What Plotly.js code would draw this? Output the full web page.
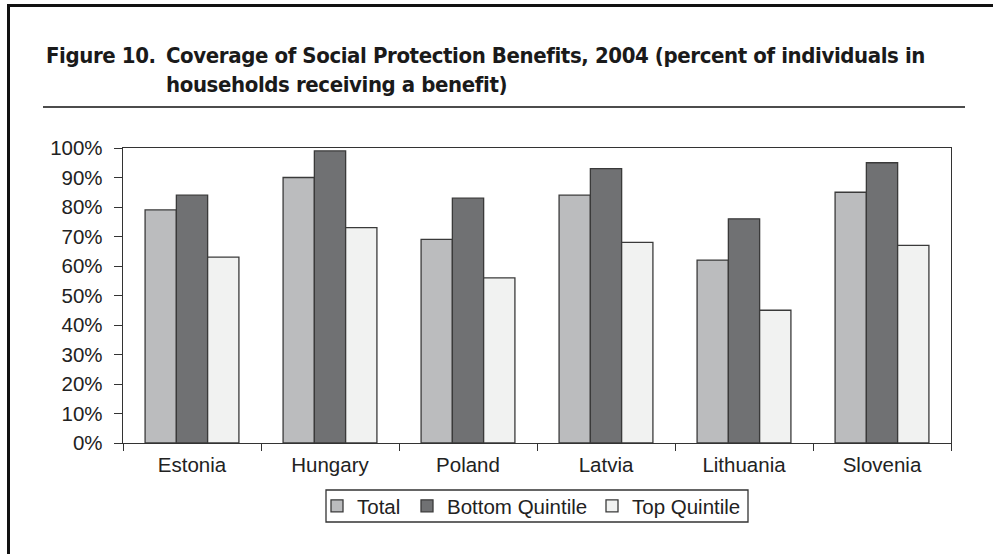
<!DOCTYPE html>
<html>
<head>
<meta charset="utf-8">
<script src="https://cdn.plot.ly/plotly-3.0.1.min.js"></script>
<style>
  html, body { margin: 0; padding: 0; background: #ffffff; }
  #chart { width: 993px; height: 554px; }
  #chart .annotation-text { letter-spacing: -0.4px; }
</style>
</head>
<body>
<div id="chart"></div>
<script>
// ---- Data ----
const countries = ["Estonia", "Hungary", "Poland", "Latvia", "Lithuania", "Slovenia"];
const seriesNames = ["Total", "Bottom Quintile", "Top Quintile"];
const totalValues = [79, 90, 69, 84, 62, 85];
const bottomQuintileValues = [84, 99, 83, 93, 76, 95];
const topQuintileValues = [63, 73, 56, 68, 45, 67];
const yTickValues = [0, 10, 20, 30, 40, 50, 60, 70, 80, 90, 100];
const yTickLabels = ["0%", "10%", "20%", "30%", "40%", "50%", "60%", "70%", "80%", "90%", "100%"];
const titleLead = "Figure 10.";
const titleBody = "Coverage of Social Protection Benefits, 2004 (percent of individuals in<br>households receiving a benefit)";

// ---- Layout geometry (pixels) ----
const W = 993, H = 554;
const M = { l: 123, r: 42, t: 148, b: 111 };
const pw = W - M.l - M.r, ph = H - M.t - M.b;
const px = x => (x - M.l) / pw;
const py = y => (H - M.b - y) / ph;

const lineCol = "#333333";
const textCol = "#222222";
const sansFont = "'Liberation Sans', Arial, Helvetica, sans-serif";
const titleFont = "'Liberation Sans Narrow', 'DejaVu Sans Condensed', 'Arial Narrow', sans-serif";
const fs = 20.5;

function barTrace(name, values, fill, legendId) {
  return {
    type: "bar",
    name: name,
    x: countries,
    y: values,
    legend: legendId,
    marker: { color: fill, line: { color: "#3a3a3a", width: 1.3 } },
    hoverinfo: "x+y+name"
  };
}

const data = [
  barTrace(seriesNames[0], totalValues, "#bbbcbe", "legend"),
  barTrace(seriesNames[1], bottomQuintileValues, "#707173", "legend2"),
  barTrace(seriesNames[2], topQuintileValues, "#f1f2f1", "legend3")
];

function legendAt(markerCenterPx) {
  return {
    orientation: "h",
    x: px(markerCenterPx - 20), xanchor: "left",
    y: py(506), yanchor: "middle",
    borderwidth: 0,
    bgcolor: "rgba(0,0,0,0)",
    font: { family: sansFont, size: fs, color: textCol }
  };
}

const layout = {
  width: W, height: H,
  margin: M,
  paper_bgcolor: "#ffffff",
  plot_bgcolor: "#ffffff",
  barmode: "group",
  bargap: 0.32,
  bargroupgap: 0,
  showlegend: true,
  font: { family: sansFont, size: fs, color: textCol },
  xaxis: {
    type: "category",
    tickson: "boundaries",
    ticks: "outside",
    ticklen: 7,
    tickcolor: lineCol,
    showline: true,
    linecolor: lineCol,
    linewidth: 1.3,
    mirror: true,
    showgrid: false,
    zeroline: false,
    ticklabelstandoff: 3,
    tickfont: { family: sansFont, size: fs, color: textCol }
  },
  yaxis: {
    range: [0, 100],
    tickvals: yTickValues,
    ticktext: yTickLabels,
    ticks: "outside",
    ticklen: 8,
    tickcolor: lineCol,
    showline: true,
    linecolor: lineCol,
    linewidth: 1.3,
    mirror: true,
    showgrid: false,
    zeroline: false,
    ticklabelstandoff: 7,
    tickfont: { family: sansFont, size: fs, color: textCol }
  },
  legend: legendAt(337),
  legend2: legendAt(427),
  legend3: legendAt(612),
  annotations: [
    {
      xref: "paper", yref: "paper",
      x: px(42), y: py(55),
      xanchor: "left", yanchor: "middle",
      text: "<b>" + titleLead + "</b>",
      showarrow: false,
      font: { family: titleFont, size: 22, color: "#1a1a1a" }
    },
    {
      xref: "paper", yref: "paper",
      x: px(164), y: py(41),
      xanchor: "left", yanchor: "top",
      align: "left",
      text: "<b>" + titleBody + "</b>",
      showarrow: false,
      font: { family: titleFont, size: 22, color: "#1a1a1a" }
    }
  ],
  shapes: [
    // rule under title
    { type: "line", xref: "paper", yref: "paper", x0: px(43), x1: px(965), y0: py(107), y1: py(107),
      line: { color: "#111111", width: 1.5 } },
    // outer frame: top and left
    { type: "line", xref: "paper", yref: "paper", x0: px(7.5), x1: px(993), y0: py(5.5), y1: py(5.5),
      line: { color: "#111111", width: 3 } },
    { type: "line", xref: "paper", yref: "paper", x0: px(8.5), x1: px(8.5), y0: py(4), y1: py(554),
      line: { color: "#111111", width: 3 } },
    // legend box
    { type: "rect", xref: "paper", yref: "paper", x0: px(326), x1: px(748), y0: py(490), y1: py(522),
      line: { color: lineCol, width: 1.3 }, fillcolor: "rgba(0,0,0,0)" }
  ]
};

Plotly.newPlot("chart", data, layout, { displayModeBar: false, staticPlot: true });
</script>
</body>
</html>
